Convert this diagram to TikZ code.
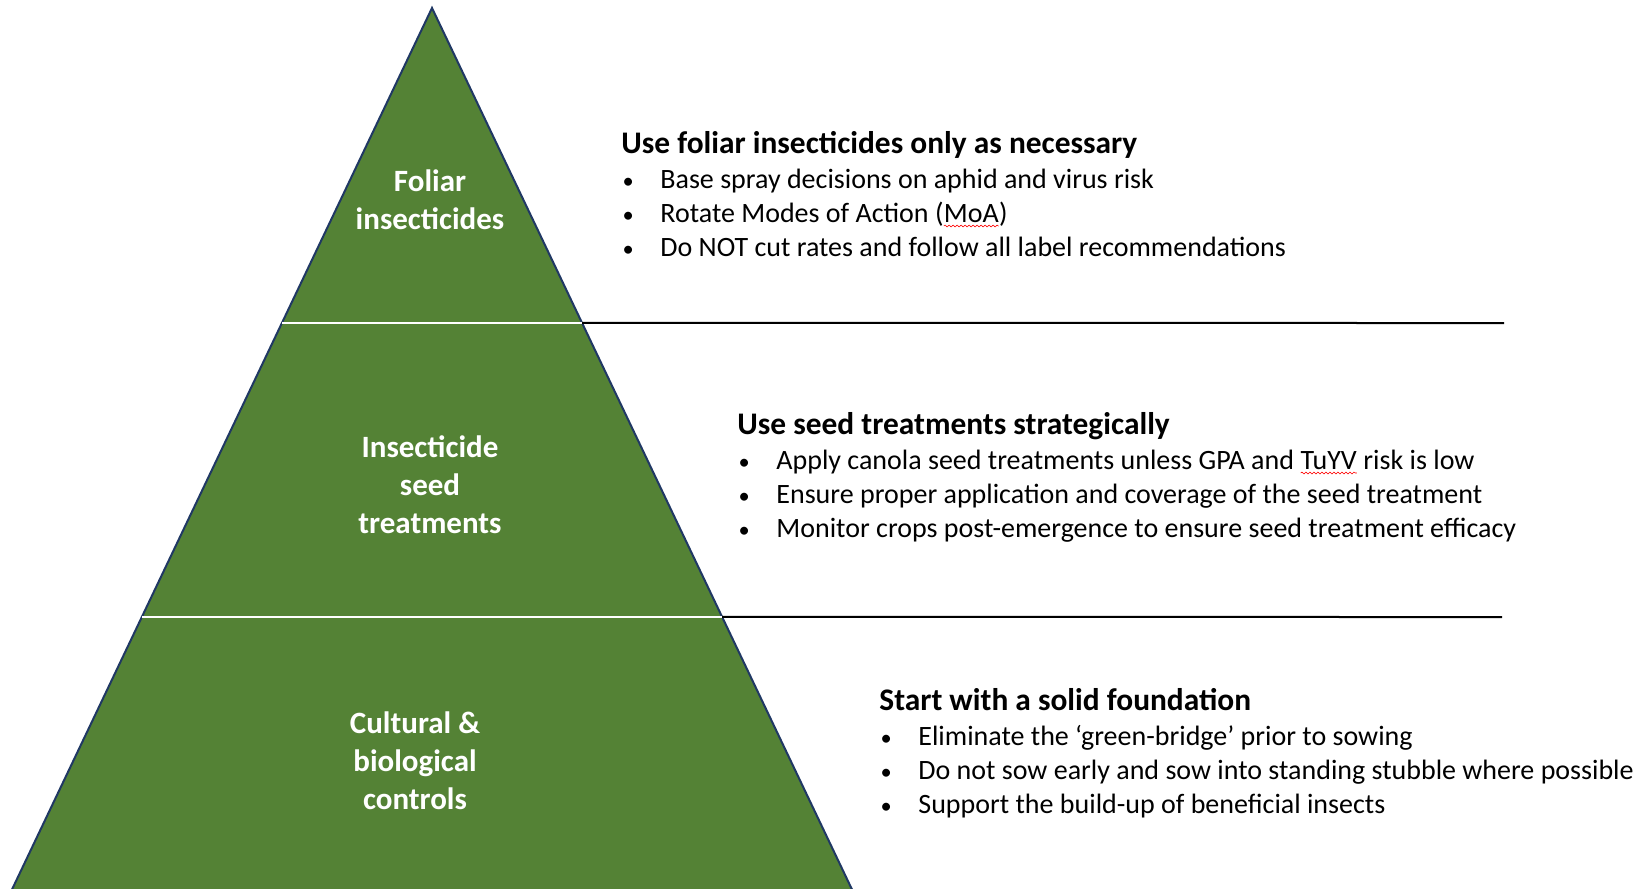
\documentclass[tikz,border=0pt]{standalone}
\usepackage{fontspec}
\setmainfont{Carlito}
\usetikzlibrary{positioning, calc, decorations.pathmorphing}

\definecolor{leafgreen}{HTML}{548235}
\definecolor{rimblue}{HTML}{203864}

% red wavy underline for flagged words
\newcommand\spellmark[1]{\tikz[baseline=(sw.base)]{\node[inner sep=0pt, outer sep=0pt] (sw) {#1};
  \draw[red, line width=0.3pt, decorate, decoration={snake, amplitude=0.45pt, segment length=2pt}]
    ([yshift=-2pt]sw.base west) -- ([yshift=-2pt]sw.base east);}}

\newcommand\bul{\makebox[19.5pt][l]{\hspace{0.6pt}\scalebox{0.8}{\textbullet}}}
\newcommand\head[1]{{\fontsize{15.7}{17}\selectfont\bfseries #1}}

\begin{document}
\begin{tikzpicture}[
  x=0.5pt, y=-0.5pt,
  tier/.style={text=white, font=\fontsize{15.5}{19}\selectfont\bfseries, align=center},
  advice/.style={anchor=base west, inner sep=0pt, align=left, font=\fontsize{14}{17}\selectfont},
  sep/.style={draw=white, line width=1.2pt},
  rule/.style={draw=black, line width=1pt}
]
\useasboundingbox (0,0) rectangle (1645,889);

% pyramid
\coordinate (apex) at (432,8);
\coordinate (bl) at (7,900);
\coordinate (br) at (857,900);
\filldraw[fill=leafgreen, draw=rimblue, line width=1pt] (apex) -- (br) -- (bl) -- cycle;

% tier boundaries
\coordinate (t1l) at ($(apex)!0.3531!(bl)$);
\coordinate (t1r) at ($(apex)!0.3531!(br)$);
\coordinate (t2l) at ($(apex)!0.6827!(bl)$);
\coordinate (t2r) at ($(apex)!0.6827!(br)$);
\coordinate (r1) at (1504,323);
\coordinate (r2) at (1502,617);

\draw[sep] (t1l) -- (t1r);
\draw[sep] (t2l) -- (t2r);
\draw[rule] (t1r) -- (r1);
\draw[rule] (t2r) -- (r2);

% tier names
\node[tier] (foliar) at (430,200) {Foliar\\insecticides};
\node[tier] (seed) at (430,485) {Insecticide\\seed\\treatments};
\node[tier] (cultural) at (415,761) {Cultural \&\\biological\\controls};

% advice per tier (anchored on the last line)
\node[advice] (foliarTxt) at (621,256) {\head{Use foliar insecticides only as necessary}\\[0.5pt]
\bul Base spray decisions on aphid and virus risk\\
\bul Rotate Modes of Action (\spellmark{MoA})\\
\bul Do NOT cut rates and follow all label recommendations};

\node[advice] (seedTxt) at (737,537) {\head{Use seed treatments strategically}\\[0.5pt]
\bul Apply canola seed treatments unless GPA and \spellmark{TuYV} risk is low\\
\bul Ensure proper application and coverage of the seed treatment\\
\bul Monitor crops post-emergence to ensure seed treatment efficacy};

\node[advice] (culturalTxt) at (879,813) {\head{Start with a solid foundation}\\[0.5pt]
\bul Eliminate the ‘green-bridge’ prior to sowing\\
\bul Do not sow early and sow into standing stubble where possible\\
\bul Support the build-up of beneficial insects};
\end{tikzpicture}
\end{document}
